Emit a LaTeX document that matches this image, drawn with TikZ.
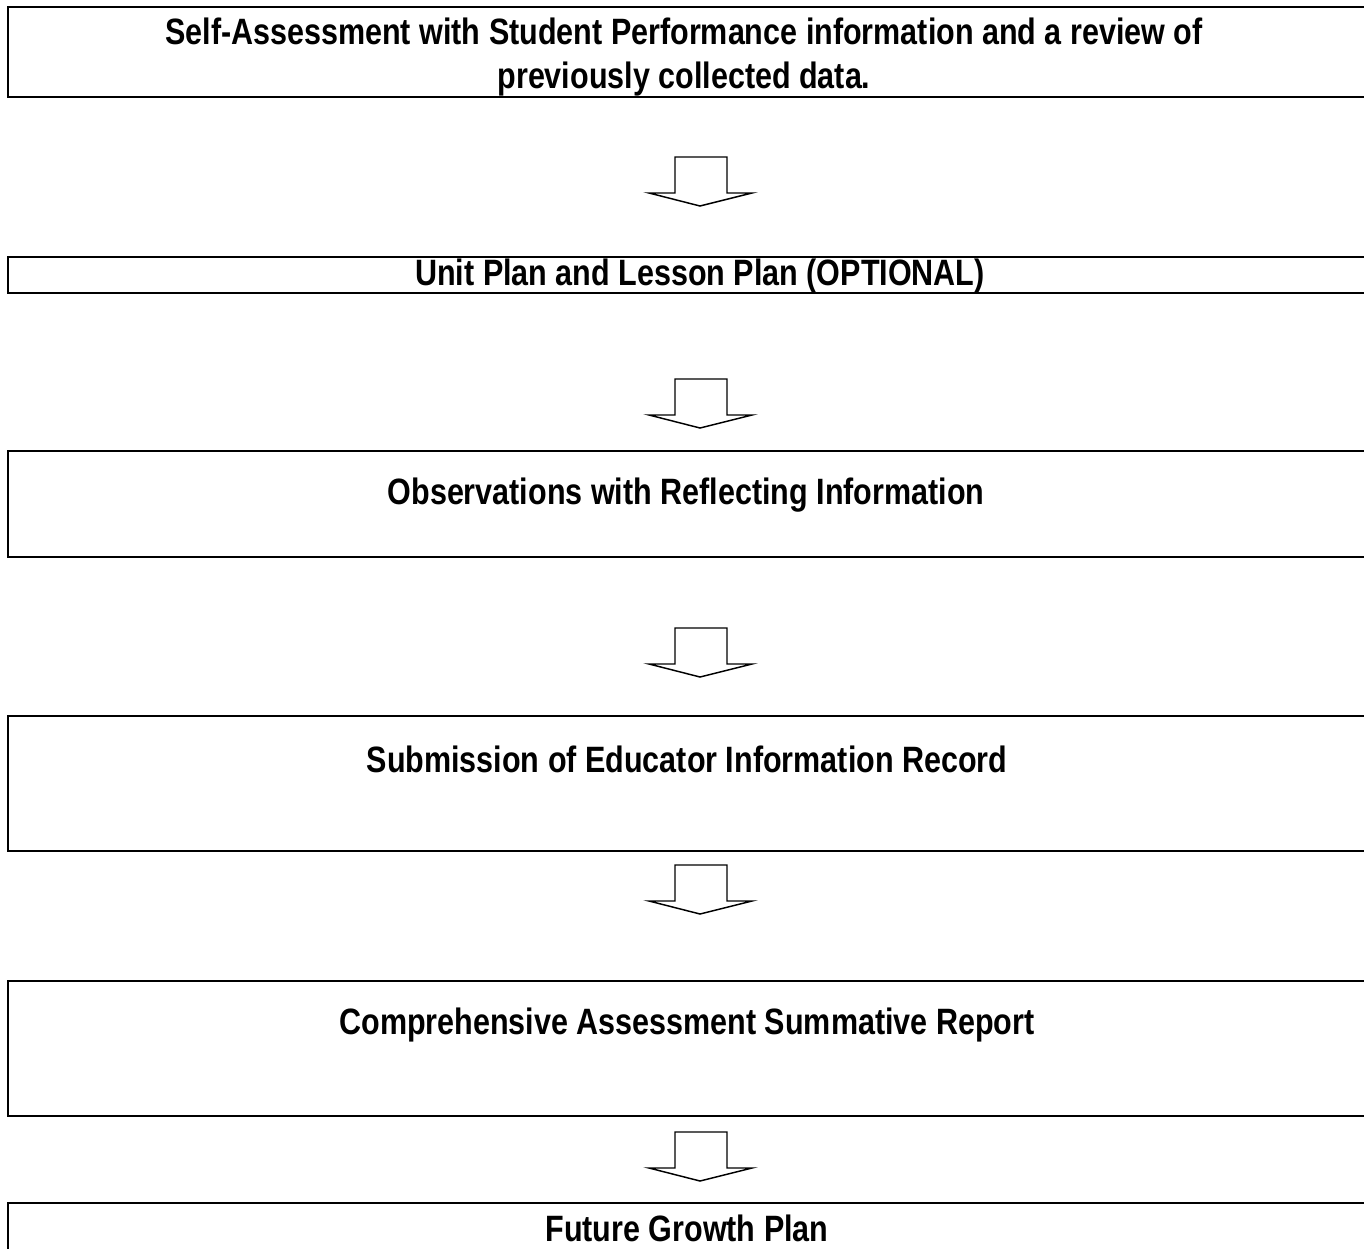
\documentclass[tikz,border=0pt]{standalone}
\usepackage{fontspec}
\setmainfont{Liberation Sans}[FakeStretch=0.832]
\begin{document}
\begin{tikzpicture}[x=0.75pt,y=-0.75pt,
  stepbox/.style={draw=black,line width=2.2pt,fill=none},
  steptext/.style={font=\bfseries\fontsize{27.5pt}{33pt}\selectfont,align=center,inner sep=0pt,anchor=center},
  blockarrow/.style={draw=black,line width=1.1pt,line join=miter}]
\useasboundingbox (0,0) rectangle (1364,1249);
\clip (0,0) rectangle (1364,1249);
\fill[white] (0,0) rectangle (1364,1249);
% boxes
\draw[stepbox] (8,7) rectangle (1390,97);
\draw[stepbox] (8,257) rectangle (1390,293);
\draw[stepbox] (8,451) rectangle (1390,557);
\draw[stepbox] (8,716) rectangle (1390,851);
\draw[stepbox] (8,981) rectangle (1390,1116);
\draw[stepbox] (8,1203) rectangle (1390,1300);
% texts
\node[steptext] (t1) at (684,57) {Self-Assessment with Student Performance information and a review of\\previously collected data.};
\node[steptext] (t2) at (700,276) {Unit Plan and Lesson Plan (OPTIONAL)};
\node[steptext] (t3) at (686,495) {Observations with Reflecting Information};
\node[steptext] (t4) at (687,759) {Submission of Educator Information Record};
\node[steptext] (t5) at (687,1025) {Comprehensive Assessment Summative Report};
\node[steptext] (t6) at (687,1228) {Future Growth Plan};
% arrows
\foreach \t [count=\i] in {157,379,628,865,1132}{
  \draw[blockarrow] (675,\t) -- (727,\t) -- (727,\t+36) -- (752,\t+36) -- (700,\t+49) -- (649,\t+36) -- (675,\t+36) -- cycle;
}
\end{tikzpicture}
\end{document}
